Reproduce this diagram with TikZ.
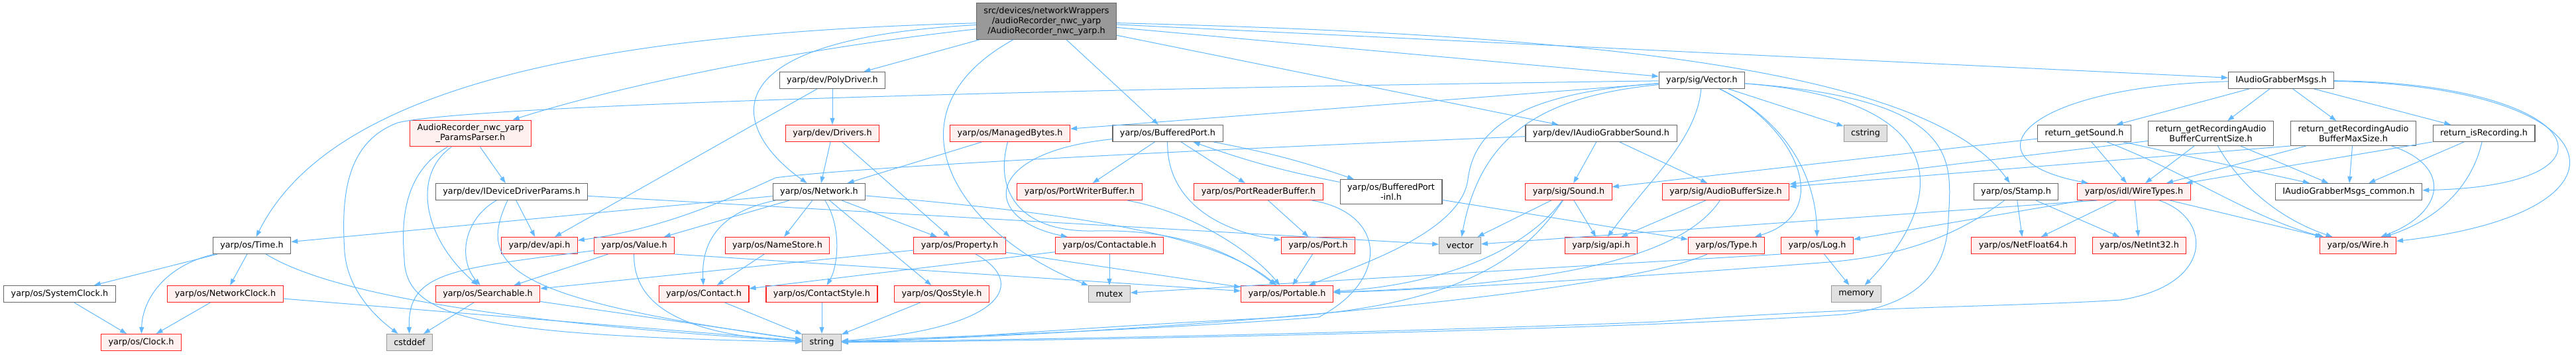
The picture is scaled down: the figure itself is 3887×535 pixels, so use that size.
\documentclass[tikz,border=0pt]{standalone}
\usepackage{fontspec}
\setmainfont{DejaVu Sans}
\usetikzlibrary{arrows.meta}
\definecolor{depblue}{HTML}{63B8FF}
\definecolor{hdrfill}{HTML}{999999}
\definecolor{hdrline}{HTML}{666666}
\definecolor{truncfill}{HTML}{FFF0F0}
\definecolor{truncline}{HTML}{FF2020}
\definecolor{sysfill}{HTML}{E0E0E0}
\definecolor{sysline}{HTML}{999999}
\begin{document}
\begin{tikzpicture}[x=1pt,y=-1pt,every node/.style={font=\fontsize{12.8}{15}\selectfont}]
  \tikzset{
    box/.style={draw,line width=1.1pt,inner xsep=11pt,inner ysep=6pt,minimum height=25pt,align=center},
    hdrbox/.style={box,fill=hdrfill,draw=hdrline},
    filebox/.style={box,fill=white,draw=hdrline},
    truncbox/.style={box,fill=truncfill,draw=truncline},
    sysbox/.style={box,fill=sysfill,draw=sysline},
    dep/.style={depblue,line width=1pt,-{Triangle[length=10pt,width=7pt]}}
  }
  \useasboundingbox (0,0) rectangle (3887,535);
  \node[hdrbox] (hdr) at (1579,32) {src/devices/networkWrappers\\/audioRecorder\_nwc\_yarp\\/AudioRecorder\_nwc\_yarp.h};
  \foreach \name/\x/\y/\txt in {polydrv/1256/121/{yarp/dev/PolyDriver.h},vec/2568/121/{yarp/sig/Vector.h},
      msgs/3442/121/{IAudioGrabberMsgs.h},bport/1762/201/{yarp/os/BufferedPort.h},
      agsound/2416/201/{yarp/dev/IAudioGrabberSound.h},rgsound/3145/201/{return\_getSound.h},
      rcur/3336/201/{return\_getRecordingAudio\\BufferCurrentSize.h},
      rmax/3551/201/{return\_getRecordingAudio\\BufferMaxSize.h},risrec/3748/201/{return\_isRecording.h},
      ddparams/772/289/{yarp/dev/IDeviceDriverParams.h},network/1236/289/{yarp/os/Network.h},
      bpinl/2099/289/{yarp/os/BufferedPort\\-inl.h},stamp/3042/289/{yarp/os/Stamp.h},
      common/3544/289/{IAudioGrabberMsgs\_common.h},time/380/370/{yarp/os/Time.h},
      sysclock/90/443/{yarp/os/SystemClock.h}}
    \node[filebox] (\name) at (\x,\y) {\txt};
  \foreach \name/\x/\y/\txt in {params/710/201/{AudioRecorder\_nwc\_yarp\\\_ParamsParser.h},
      drivers/1256/201/{yarp/dev/Drivers.h},mbytes/1524/201/{yarp/os/ManagedBytes.h},
      pwbuf/1629/289/{yarp/os/PortWriterBuffer.h},prbuf/1899/289/{yarp/os/PortReaderBuffer.h},
      sound/2367/289/{yarp/sig/Sound.h},abs/2604/289/{yarp/sig/AudioBufferSize.h},
      wtypes/3220/289/{yarp/os/idl/WireTypes.h},devapi/814/370/{yarp/dev/api.h},
      value/957/370/{yarp/os/Value.h},namestore/1173/370/{yarp/os/NameStore.h},
      property/1448/370/{yarp/os/Property.h},contactable/1674/370/{yarp/os/Contactable.h},
      port/1989/370/{yarp/os/Port.h},sigapi/2416/370/{yarp/sig/api.h},type/2605/370/{yarp/os/Type.h},
      log/2742/370/{yarp/os/Log.h},netf64/3053/370/{yarp/os/NetFloat64.h},
      neti32/3228/370/{yarp/os/NetInt32.h},wire/3558/370/{yarp/os/Wire.h},
      netclock/340/443/{yarp/os/NetworkClock.h},searchable/736/443/{yarp/os/Searchable.h},
      contact/1062/443/{yarp/os/Contact.h},cstyle/1240/443/{yarp/os/ContactStyle.h},
      qos/1421/443/{yarp/os/QosStyle.h},portable/1942/443/{yarp/os/Portable.h},
      clock/213/516/{yarp/os/Clock.h}}
    \node[truncbox] (\name) at (\x,\y) {\txt};
  \foreach \name/\x/\y in {cstring/2815/201,vector/2203/370,mutex/1674/443,memory/2801/443,cstddef/618/516,string/1240/516}
    \node[sysbox] (\name) at (\x,\y) {\name};
  \foreach \u/\v in {hdr/polydrv,hdr/bport,hdr/vec,hdr/agsound,hdr/msgs,
      polydrv/drivers,polydrv/devapi,drivers/network,drivers/property,
      params/ddparams,ddparams/devapi,ddparams/vector,
      network/time,network/value,network/namestore,network/qos,network/property,
      mbytes/network,bport/pwbuf,bport/prbuf,bpinl/type,prbuf/port,port/portable,
      vec/mbytes,vec/cstring,agsound/sound,agsound/abs,sound/vector,sound/sigapi,abs/sigapi,
      rgsound/sound,rgsound/wtypes,rgsound/common,rcur/abs,rcur/wtypes,rcur/common,
      rmax.south west/abs,rmax/wtypes,rmax/common,risrec/wtypes,risrec/common,
      msgs/rgsound,msgs/rcur,msgs/rmax,msgs/risrec,
      stamp/netf64,stamp/neti32,wtypes/netf64,wtypes/neti32,wtypes/wire,wtypes/log,
      time/sysclock,time/netclock,sysclock/clock,netclock/clock,netclock/string,
      value/searchable,value.south east/portable,namestore/contact,property/searchable,property/portable,
      contactable/mutex,contactable/contact,contact/string,cstyle/string,qos/string,
      searchable/string,searchable/cstddef,log/memory,log.south west/mutex}
    \draw[dep] (\u)--(\v);
  \draw[dep] (hdr) .. controls (900,50) and (500,130) .. (time);
  \draw[dep] (hdr) .. controls (1150,80) and (900,140) .. (params);
  \draw[dep] (hdr) .. controls (1050,60) and (1110,200) .. (network);
  \draw[dep] (hdr) .. controls (1330,170) and (1440,350) .. (mutex);
  \draw[dep] (hdr) .. controls (2300,50) and (2900,90) .. (stamp);
  \draw[dep] (params) .. controls (620,265) and (640,360) .. (searchable);
  \draw[dep] (params) .. controls (610,260) and (605,330) .. (610,390) .. controls (612,480) and (720,505) .. (string);
  \draw[dep] (ddparams) .. controls (700,330) and (690,390) .. (searchable);
  \draw[dep] (ddparams) .. controls (720,400) and (760,450) .. (string);
  \draw[dep] (network) .. controls (1080,320) and (1058,370) .. (contact);
  \draw[dep] (network) .. controls (1270,340) and (1265,400) .. (cstyle);
  \draw[dep] (network) .. controls (1600,320) and (1830,350) .. (portable);
  \draw[dep] (mbytes) .. controls (1500,290) and (1540,350) .. (1650,348) .. controls (1780,345) and (1860,380) .. (portable);
  \draw[dep] (bport) .. controls (1480,230) and (1480,330) .. (contactable);
  \draw[dep] (bport) .. controls (1760,290) and (1820,345) .. (port);
  \draw[dep] (bport) to[bend left=4] (bpinl);
  \draw[dep] (bpinl) to[bend left=4] (bport);
  \draw[dep] (pwbuf) .. controls (1800,320) and (1890,380) .. (portable);
  \draw[dep] (prbuf) .. controls (2090,320) and (2100,420) .. (1990,478) .. controls (1700,500) and (1400,508) .. (string);
  \draw[dep] (vec) .. controls (1500,135) and (700,160) .. (600,185) .. controls (520,215) and (515,300) .. (520,380) .. controls (525,440) and (570,480) .. (cstddef);
  \draw[dep] (vec) .. controls (2330,145) and (2235,200) .. (vector);
  \draw[dep] (vec) .. controls (2300,140) and (2225,190) .. (2215,270) .. controls (2205,350) and (2050,400) .. (portable);
  \draw[dep] (vec) .. controls (2560,210) and (2490,270) .. (sigapi);
  \draw[dep] (vec) .. controls (2710,190) and (2770,320) .. (type);
  \draw[dep] (vec) .. controls (2690,180) and (2740,260) .. (log);
  \draw[dep] (vec) .. controls (2950,150) and (2940,300) .. (memory);
  \draw[dep] (vec) .. controls (2960,150) and (2945,240) .. (2940,330) .. controls (2938,420) and (2880,462) .. (2780,474) .. controls (2400,500) and (1500,515) .. (string);
  \draw[dep] (agsound) .. controls (1900,222) and (1300,250) .. (1170,268) .. controls (1100,300) and (1000,345) .. (devapi);
  \draw[dep] (sound) .. controls (2300,380) and (2170,430) .. (portable);
  \draw[dep] (sound) .. controls (2300,390) and (2200,465) .. (1900,480) .. controls (1600,495) and (1400,514) .. (string);
  \draw[dep] (abs) .. controls (2530,400) and (2300,430) .. (portable);
  \draw[dep] (stamp) .. controls (2960,350) and (2880,385) .. (2760,395) .. controls (2500,415) and (2200,435) .. (portable);
  \draw[dep] (rgsound) .. controls (3300,260) and (3400,330) .. (wire);
  \draw[dep] (rcur) .. controls (3380,280) and (3440,330) .. (wire);
  \draw[dep] (rmax) .. controls (3700,250) and (3690,320) .. (wire);
  \draw[dep] (risrec) .. controls (3730,280) and (3680,330) .. (wire);
  \draw[dep] (msgs) .. controls (3900,125) and (3980,280) .. (common);
  \draw[dep] (msgs) .. controls (3950,130) and (4000,320) .. (wire);
  \draw[dep] (msgs) .. controls (3050,130) and (2960,240) .. (wtypes);
  \draw[dep] ([xshift=30pt]wtypes.south west) -- (vector);
  \draw[dep] (wtypes) .. controls (3340,330) and (3340,430) .. (3200,452) .. controls (3050,462) and (2800,462) .. (2500,485) .. controls (2000,505) and (1500,512) .. (string);
  \draw[dep] (time) .. controls (250,400) and (215,450) .. (clock);
  \draw[dep] (time) .. controls (470,425) and (650,480) .. (string);
  \draw[dep] (value) .. controls (955,460) and (1030,505) .. (string);
  \draw[dep] (value) .. controls (680,405) and (615,410) .. (cstddef);
  \draw[dep] (property) .. controls (1550,425) and (1520,495) .. (string);
  \draw[dep] (type) .. controls (2450,440) and (1800,500) .. (string);
\end{tikzpicture}
\end{document}
